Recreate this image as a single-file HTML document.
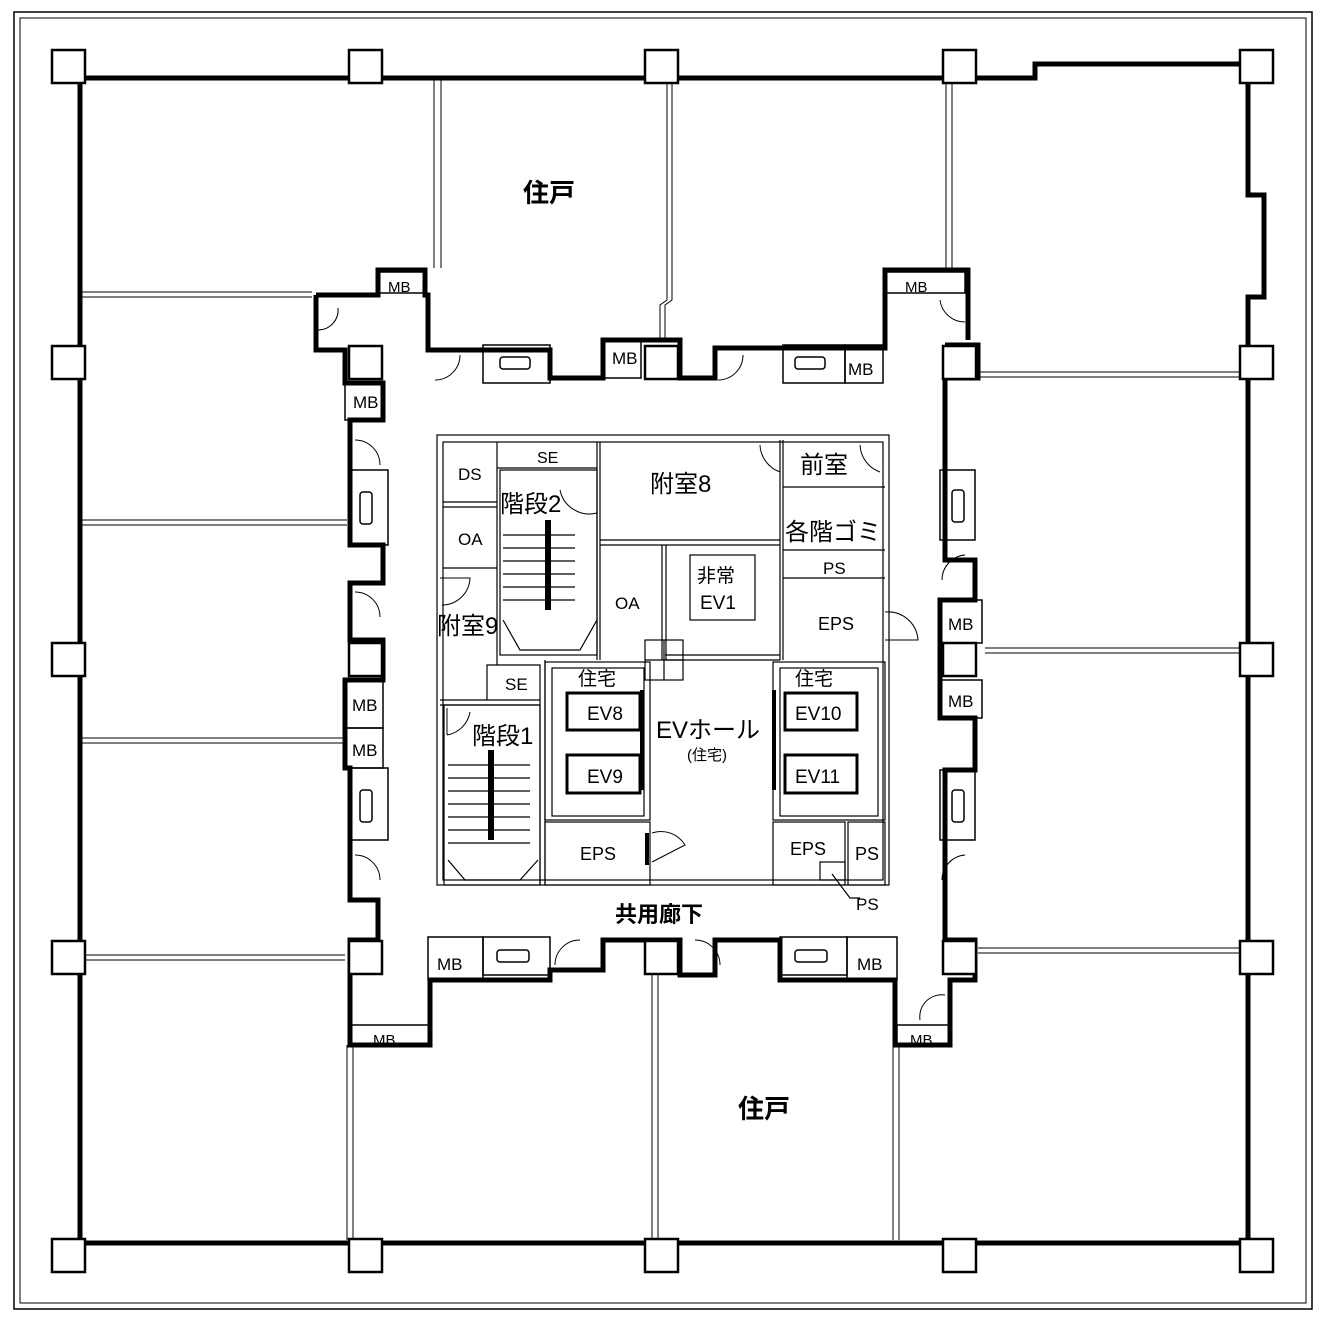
<!DOCTYPE html>
<html><head><meta charset="utf-8"><style>
html,body{margin:0;padding:0;background:#fff}
svg{display:block}
text{font-family:"Liberation Sans","Noto Sans CJK JP",sans-serif;fill:#000}
</style></head><body>
<svg width="1326" height="1321" viewBox="0 0 1326 1321" xmlns="http://www.w3.org/2000/svg">
<!-- frame -->
<rect x="14" y="12" width="1298" height="1297" fill="none" stroke="#000" stroke-width="1.5"/>
<rect x="20" y="18" width="1286" height="1285" fill="none" stroke="#000" stroke-width="1"/>

<!-- outer thick wall -->
<path d="M80,78 L1035,78 L1035,64 L1248,64 L1248,195 L1264,195 L1264,297 L1248,297 L1248,1243 L80,1243 Z" fill="none" stroke="#000" stroke-width="5"/>

<!-- partitions (thin double) -->
<g stroke="#000" stroke-width="1" fill="none">
<path d="M434,80 V268 M441,80 V268"/>
<path d="M667,80 V300 L660,305 V340 M672,80 V300 L665,305 V340"/>
<path d="M946,80 V268 M952,80 V268"/>
<path d="M80,292 H312 M80,297 H312"/>
<path d="M80,520 H347 M80,525 H347"/>
<path d="M80,738 H345 M80,743 H345"/>
<path d="M80,955 H345 M80,960 H345"/>
<path d="M978,372 H1248 M978,377 H1248"/>
<path d="M985,648 H1248 M985,653 H1248"/>
<path d="M978,948 H1248 M978,953 H1248"/>
<path d="M347,1045 V1240 M353,1045 V1240"/>
<path d="M652,975 V1240 M658,975 V1240"/>
<path d="M893,1045 V1240 M899,1045 V1240"/>
</g>

<!-- corridor thick walls -->
<g stroke="#000" stroke-width="5" fill="none" stroke-linejoin="miter">
<path d="M316,295 H378 V270 H425 V295 H428 V350 H550 V378 H603 V340 H680 V378 H715 V348 H885 V270 H968 V340"/>
<path d="M316,295 V350 H345 V383 H383 V420 H350 V545 H383 V583 H350 V640 H383 V680 H345 V768 H350 V900 H378 V940 H350 V1045 H430 V980 H550 V970 H603 V940 H680 V975 H715 V940 H780 V980 H895 V1045 H950 V980 H975 V940 H945 V770 H975 V718 H940 V600 H975 V560 H945 V378 H978 V345 H945"/>
</g>

<!-- columns -->
<g fill="#fff" stroke="#000" stroke-width="2.5">
<rect x="52" y="50" width="33" height="33"/><rect x="349" y="50" width="33" height="33"/><rect x="645" y="50" width="33" height="33"/><rect x="943" y="50" width="33" height="33"/><rect x="1240" y="50" width="33" height="33"/>
<rect x="52" y="346" width="33" height="33"/><rect x="349" y="346" width="33" height="33"/><rect x="645" y="346" width="33" height="33"/><rect x="943" y="346" width="33" height="33"/><rect x="1240" y="346" width="33" height="33"/>
<rect x="52" y="643" width="33" height="33"/><rect x="349" y="643" width="33" height="33"/><rect x="943" y="643" width="33" height="33"/><rect x="1240" y="643" width="33" height="33"/>
<rect x="52" y="941" width="33" height="33"/><rect x="349" y="941" width="33" height="33"/><rect x="645" y="941" width="33" height="33"/><rect x="943" y="941" width="33" height="33"/><rect x="1240" y="941" width="33" height="33"/>
<rect x="52" y="1239" width="33" height="33"/><rect x="349" y="1239" width="33" height="33"/><rect x="645" y="1239" width="33" height="33"/><rect x="943" y="1239" width="33" height="33"/><rect x="1240" y="1239" width="33" height="33"/>
</g>

<!-- MB boxes and niches -->
<g fill="none" stroke="#000" stroke-width="1.5">
<rect x="378" y="272" width="47" height="21"/><rect x="885" y="272" width="80" height="21"/>
<rect x="603" y="340" width="38" height="38"/><rect x="845" y="345" width="38" height="38"/>
<rect x="483" y="345" width="67" height="38"/><rect x="500" y="357" width="30" height="12" rx="3"/>
<rect x="783" y="345" width="62" height="38"/><rect x="795" y="357" width="30" height="12" rx="3"/>
<rect x="345" y="383" width="38" height="37"/>
<rect x="345" y="680" width="38" height="48"/><rect x="345" y="728" width="38" height="40"/>
<rect x="350" y="470" width="38" height="75"/><rect x="360" y="492" width="12" height="32" rx="3"/>
<rect x="350" y="768" width="38" height="72"/><rect x="360" y="790" width="12" height="32" rx="3"/>
<rect x="940" y="600" width="42" height="43"/><rect x="940" y="680" width="42" height="38"/>
<rect x="940" y="470" width="35" height="70"/><rect x="952" y="490" width="12" height="32" rx="3"/>
<rect x="940" y="770" width="35" height="70"/><rect x="952" y="790" width="12" height="32" rx="3"/>
<rect x="428" y="937" width="55" height="43"/><rect x="483" y="937" width="67" height="38"/><rect x="497" y="950" width="32" height="12" rx="3"/>
<rect x="780" y="937" width="67" height="38"/><rect x="795" y="950" width="32" height="12" rx="3"/><rect x="847" y="937" width="50" height="43"/>
<rect x="350" y="1025" width="80" height="20"/><rect x="897" y="1025" width="53" height="20"/>
</g>

<!-- door arcs -->
<g fill="none" stroke="#000" stroke-width="1">
<path d="M318,330 A20,20 0 0 0 338,308"/><path d="M435,380 A25,25 0 0 0 460,355"/><path d="M718,380 A25,25 0 0 0 743,355"/>
<path d="M940,300 A25,25 0 0 0 965,322"/><path d="M355,440 A25,25 0 0 1 380,465"/><path d="M355,592 A25,25 0 0 1 380,617"/>
<path d="M355,855 A25,25 0 0 1 380,880"/><path d="M965,555 A25,25 0 0 0 942,580"/><path d="M965,855 A25,25 0 0 0 942,880"/>
<path d="M555,965 A25,25 0 0 1 580,940"/><path d="M720,965 A25,25 0 0 0 695,940"/><path d="M920,1020 A22,22 0 0 1 945,995"/>
<path d="M885,612 A30,30 0 0 1 918,640 L885,640"/><path d="M652,833 A28,28 0 0 1 685,845 L652,862"/>
<path d="M760,445 A30,30 0 0 0 780,472"/><path d="M880,472 A30,30 0 0 1 860,445"/>
<path d="M440,578 L470,578 A28,28 0 0 1 442,605"/>
<path d="M447,735 V708 M447,735 A28,28 0 0 0 470,712"/>
<path d="M560,490 A30,30 0 0 0 597,513"/>
</g>

<!-- core -->
<g fill="none" stroke="#000" stroke-width="1.2">
<rect x="437" y="435" width="452" height="450"/>
<rect x="443" y="442" width="440" height="438"/>
<path d="M497,442 V665 M443,502 H497 M443,507 H497 M443,568 H497 M497,468 H597 M597,442 V660 M600,442 V660"/>
<path d="M780,440 V660 M783,440 V660 M783,487 H885 M783,550 H885 M783,578 H885 M600,540 H780 M600,545 H780"/>
<path d="M662,545 V660 M666,545 V660 M665,655 H780 M665,660 H780"/>
<rect x="690" y="555" width="65" height="65"/>
<rect x="645" y="640" width="38" height="40"/><path d="M664,640 V680 M645,660 H683"/>
<path d="M487,665 H540 V700 H487 Z M440,705 H540 M440,700 H540 M540,665 V885 M545,660 V885"/>
<rect x="545" y="662" width="105" height="158"/><rect x="552" y="668" width="92" height="148"/>
<rect x="773" y="662" width="112" height="158"/><rect x="780" y="668" width="98" height="148"/>
<rect x="545" y="822" width="105" height="63"/>
<rect x="773" y="822" width="72" height="63"/><rect x="848" y="822" width="37" height="63"/>
<rect x="820" y="862" width="25" height="18"/><path d="M832,874 L850,898 H860"/>
<!-- stairs -->
<rect x="500" y="470" width="97" height="185"/><rect x="444" y="705" width="96" height="180"/>
<path d="M503,535 H575 M503,548 H575 M503,561 H575 M503,574 H575 M503,587 H575 M503,600 H575"/>
<path d="M448,765 H530 M448,778 H530 M448,791 H530 M448,804 H530 M448,817 H530 M448,830 H530 M448,843 H530"/>
<path d="M503,620 L520,650 H580 L597,620 M448,860 L465,880 H520 L538,860"/>
</g>
<g fill="#000">
<rect x="545" y="520" width="6" height="90"/><rect x="488" y="750" width="6" height="90"/>
<rect x="567" y="693" width="73" height="37" fill="none" stroke="#000" stroke-width="3"/>
<rect x="567" y="755" width="73" height="38" fill="none" stroke="#000" stroke-width="3"/>
<rect x="785" y="693" width="72" height="37" fill="none" stroke="#000" stroke-width="3"/>
<rect x="785" y="755" width="72" height="38" fill="none" stroke="#000" stroke-width="3"/>
<rect x="640" y="690" width="4" height="100"/><rect x="772" y="690" width="4" height="100"/>
<rect x="645" y="833" width="4" height="32"/>
</g>

<!-- labels -->
<g font-size="26" font-weight="bold">
<text x="523" y="202">住戸</text>
<text x="738" y="1118">住戸</text>
</g>
<g font-size="19">
<text x="353" y="408" font-size="17">MB</text>
<text x="612" y="364" font-size="17">MB</text>
<text x="848" y="375" font-size="17">MB</text>
<text x="388" y="292" font-size="15">MB</text>
<text x="905" y="292" font-size="15">MB</text>
<text x="352" y="711" font-size="17">MB</text>
<text x="352" y="756" font-size="17">MB</text>
<text x="948" y="630" font-size="17">MB</text>
<text x="948" y="707" font-size="17">MB</text>
<text x="437" y="970" font-size="17">MB</text>
<text x="857" y="970" font-size="17">MB</text>
<text x="373" y="1045" font-size="15">MB</text>
<text x="910" y="1045" font-size="15">MB</text>
<text x="458" y="480" font-size="17">DS</text>
<text x="537" y="463" font-size="16">SE</text>
<text x="458" y="545" font-size="17">OA</text>
<text x="615" y="609" font-size="17">OA</text>
<text x="650" y="492" font-size="24">附室8</text>
<text x="800" y="473" font-size="24">前室</text>
<text x="785" y="540" font-size="24">各階ゴミ</text>
<text x="823" y="574" font-size="17">PS</text>
<text x="818" y="630" font-size="18">EPS</text>
<text x="697" y="582" font-size="19">非常</text>
<text x="700" y="609" font-size="19">EV1</text>
<text x="500" y="512" font-size="24">階段2</text>
<text x="437" y="634" font-size="24">附室9</text>
<text x="505" y="690" font-size="17">SE</text>
<text x="472" y="744" font-size="24">階段1</text>
<text x="578" y="685" font-size="19">住宅</text>
<text x="795" y="685" font-size="19">住宅</text>
<text x="587" y="720" font-size="19">EV8</text>
<text x="587" y="783" font-size="19">EV9</text>
<text x="795" y="720" font-size="19">EV10</text>
<text x="795" y="783" font-size="19">EV11</text>
<text x="656" y="738" font-size="24">EVホール</text>
<text x="687" y="760" font-size="15">(住宅)</text>
<text x="580" y="860" font-size="18">EPS</text>
<text x="790" y="855" font-size="18">EPS</text>
<text x="855" y="860" font-size="18">PS</text>
<text x="856" y="910" font-size="17">PS</text>
<text x="615" y="922" font-size="22" font-weight="bold">共用廊下</text>
</g>
</svg>
</body></html>
